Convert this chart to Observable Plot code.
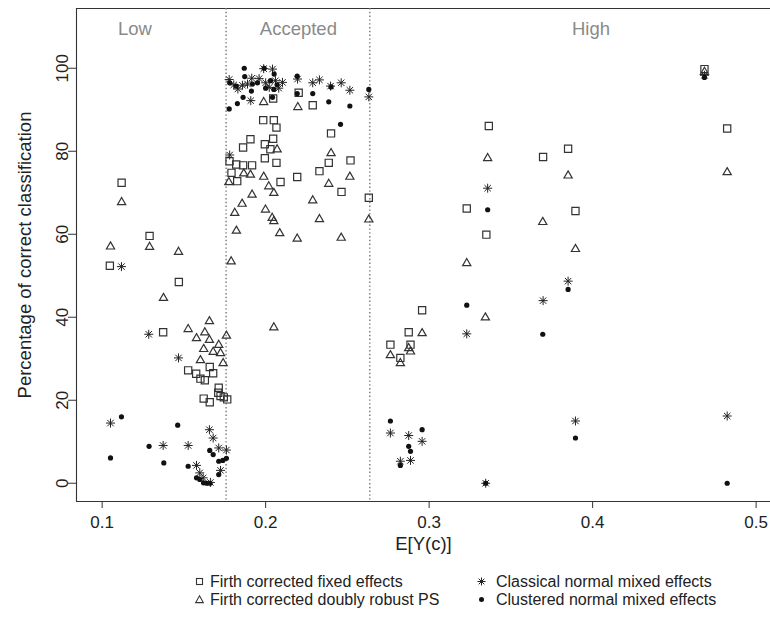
<!DOCTYPE html>
<html>
<head>
<meta charset="utf-8">
<script src="https://cdn.jsdelivr.net/npm/d3@7"></script>
<script src="https://cdn.jsdelivr.net/npm/@observablehq/plot@0.6"></script>
<style>
  html, body { margin: 0; padding: 0; background: white; overflow: hidden; }
  body { font-family: "Liberation Sans", Arial, sans-serif; color: #222; }
  #legend { position: relative; width: 770px; height: 57px; font-size: 16px; }
  #legend .item { position: absolute; height: 18px; line-height: 18px; white-space: nowrap; }
  #legend svg { position: absolute; }
</style>
</head>
<body>
<div id="chart"></div>
<script>
// ---- Data ----
// Firth corrected fixed effects (open squares)
const fixedX = [0.1047,0.1119,0.1290,0.1373,0.1469,0.1526,0.1575,0.1601,0.1628,0.1658,0.1679,0.1713,0.1710,0.1724,0.1744,0.1765,0.1621,0.1658,
  0.1779,0.1820,0.1862,0.1917,0.1791,0.1826,0.1862,0.1907,0.1985,0.2050,0.2066,0.1995,0.2046,0.2029,0.1995,0.2066,0.2046,0.2202,0.2288,0.2400,0.2386,0.2519,0.2329,0.2193,0.2091,0.2464,0.2631,
  0.2763,0.2824,0.2875,0.2886,0.2957,0.3230,0.3350,0.3365,0.3697,0.3850,0.3895,0.4684,0.4823];
const fixedY = [52.4,72.4,59.6,36.4,48.5,27.2,26.4,25.2,24.8,28.0,26.5,23.0,21.8,21.0,20.7,20.2,20.4,19.5,
  77.6,76.8,76.6,76.6,74.8,72.8,80.9,82.9,87.5,87.5,85.7,81.7,83.0,80.5,78.3,77.2,92.7,94.1,91.1,84.3,77.2,77.8,75.2,73.8,72.6,70.2,68.8,
  33.4,30.2,36.4,33.4,41.7,66.2,59.9,86.1,78.6,80.6,65.6,99.8,85.5];

// Firth corrected doubly robust PS (open triangles)
const robustX = [0.1051,0.1119,0.1290,0.1375,0.1467,0.1526,0.1577,0.1601,0.1621,0.1628,0.1656,0.1656,0.1679,0.1713,0.1724,0.1740,0.1760,
  0.1988,0.2197,0.1775,0.1866,0.1907,0.1988,0.2019,0.2070,0.2400,0.2515,0.2386,0.2050,0.2288,0.1917,0.2631,0.2329,0.1856,0.1811,0.1999,0.2040,0.2050,0.1821,0.2086,0.2193,0.2462,0.1789,0.2050,
  0.2763,0.2824,0.2875,0.2886,0.2957,0.3230,0.3344,0.3358,0.3695,0.3850,0.3895,0.4684,0.4823];
const robustY = [57.1,67.8,57.0,44.7,55.8,37.2,35.0,29.7,32.4,36.4,39.1,34.6,31.7,33.4,31.4,29.0,35.6,
  91.9,90.7,72.6,74.7,74.4,73.9,71.6,80.5,79.6,73.9,72.2,70.0,68.2,69.6,63.6,63.7,67.4,65.2,66.0,64.0,63.2,60.9,60.3,59.0,59.2,53.5,37.6,
  30.9,29.0,32.6,31.8,36.2,53.1,40.0,78.4,63.0,74.2,56.5,99.2,75.0];

// Classical normal mixed effects (asterisks)
const classicalX = [0.1051,0.1118,0.1285,0.1373,0.1467,0.1526,0.1577,0.1597,0.1618,0.1656,0.1679,0.1713,0.1760,0.1724,0.1662,
  0.1780,0.1777,0.1805,0.1830,0.1858,0.1889,0.1909,0.1915,0.1960,0.1988,0.2042,0.2000,0.2022,0.2060,0.2080,0.2103,0.2195,0.2288,0.2329,0.2397,0.2462,0.2515,0.2631,
  0.2763,0.2824,0.2875,0.2886,0.2957,0.3230,0.3346,0.3358,0.3697,0.3850,0.3895,0.4684,0.4823];
const classicalY = [14.5,52.2,35.9,9.1,30.2,9.1,4.3,2.5,1.3,12.9,10.9,8.5,8.0,3.1,0.2,
  79.1,97.3,96.0,95.0,95.9,96.2,92.2,97.6,97.5,99.9,99.8,96.5,95.4,97.0,95.2,96.6,97.4,96.5,97.2,95.7,96.5,94.7,93.1,
  12.1,5.3,11.5,5.5,10.1,36.0,0.0,71.1,44.0,48.7,15.0,98.3,16.2];

// Clustered normal mixed effects (filled dots)
const clusteredX = [0.1051,0.1118,0.1287,0.1377,0.1462,0.1526,0.1577,0.1597,0.1620,0.1640,0.1660,0.1658,0.1679,0.1713,0.1738,0.1760,0.1713,
  0.1869,0.1780,0.1820,0.1872,0.1919,0.1862,0.1827,0.1777,0.1913,0.1991,0.2052,0.2000,0.2030,0.2050,0.2070,0.2042,0.2193,0.2193,0.2288,0.2386,0.2400,0.2515,0.2458,0.2631,0.1950,
  0.2763,0.2824,0.2875,0.2886,0.2957,0.3230,0.3346,0.3358,0.3695,0.3850,0.3895,0.4684,0.4823];
const clusteredY = [6.1,16.0,8.9,4.9,14.0,4.1,1.3,0.9,0.1,0.0,0.0,7.9,6.9,5.3,5.5,6.0,2.1,
  100.0,96.5,95.7,98.0,96.2,93.0,91.5,90.2,94.5,100.0,98.6,95.2,97.0,94.9,96.0,93.0,98.1,93.9,93.9,91.9,95.5,90.9,86.5,94.9,96.5,
  15.0,4.3,8.9,7.7,12.9,42.9,0.0,65.9,35.9,46.7,10.9,97.8,0.0];

const thresholds = [0.1758, 0.2637];
const regionLabels = ["Low", "Accepted", "High"];
const regionX = [0.12, 0.22, 0.399];
const regionLabelY = 109.5;

const xTicks = [0.1, 0.2, 0.3, 0.4, 0.5];
const yTicks = [0, 20, 40, 60, 80, 100];
const xDomain = [0.0843, 0.5088];
const yDomain = [-4.4, 114.4];

const seriesNames = ["Firth corrected fixed effects", "Firth corrected doubly robust PS",
                     "Classical normal mixed effects", "Clustered normal mixed effects"];

// ---- Symbols (R pch 0, 2, 8, 16) ----
const symSquare = { draw(c) { const h = 3.6; c.moveTo(-h,-h); c.lineTo(h,-h); c.lineTo(h,h); c.lineTo(-h,h); c.closePath(); } };
const symTriangle = { draw(c) { c.moveTo(0,-4.4); c.lineTo(4.1,2.7); c.lineTo(-4.1,2.7); c.closePath(); } };
const symAsterisk = { draw(c) { const r = 4.5, d = 3.2;
  c.moveTo(-r,0); c.lineTo(r,0); c.moveTo(0,-r); c.lineTo(0,r);
  c.moveTo(-d,-d); c.lineTo(d,d); c.moveTo(-d,d); c.lineTo(d,-d); } };
const symDot = { draw(c) { const r = 2.6; c.moveTo(r,0); c.arc(0,0,r,0,2*Math.PI); } };

const pts = (xs, ys) => xs.map((x, i) => ({x, y: ys[i]}));

const font = "Liberation Sans, Arial, sans-serif";
const ink = "#333";

const chart = Plot.plot({
  width: 770,
  height: 561,
  marginLeft: 76,
  marginRight: 0,
  marginTop: 8,
  marginBottom: 60,
  style: { fontFamily: font, color: "#222", background: "white" },
  x: { domain: xDomain },
  y: { domain: yDomain },
  marks: [
    // frame (top, bottom, left)
    Plot.ruleY([yDomain[0], yDomain[1]], { stroke: ink, strokeWidth: 1.1 }),
    Plot.ruleX([xDomain[0]], { stroke: ink, strokeWidth: 1.1 }),
    // thresholds
    Plot.ruleX(thresholds, { stroke: "#777", strokeWidth: 1.4, strokeDasharray: "1.4,2.4" }),
    // region labels
    Plot.text(regionLabels, { x: regionX, y: regionX.map(() => regionLabelY), text: d => d, fill: "#8a8a8a", fontSize: 18.5, lineAnchor: "middle" }),
    // axes
    Plot.axisX({ ticks: xTicks, tickSize: 7, tickPadding: 7, fontSize: 17, label: null, stroke: ink, tickFormat: d3.format(".1f") }),
    Plot.axisY({ ticks: yTicks, tickSize: 8, tickFormat: () => "", label: null, stroke: ink }),
    Plot.text(yTicks, { y: d => d, text: d => String(d), frameAnchor: "left", textAnchor: "middle", lineAnchor: "middle", rotate: -90, dx: -14, fontSize: 17, fill: "#222" }),
    Plot.text(["E[Y(c)]"], { frameAnchor: "bottom", dy: 48, fontSize: 18.5, fill: "#222" }),
    Plot.text(["Percentage of correct classification"], { frameAnchor: "left", textAnchor: "middle", lineAnchor: "middle", rotate: -90, dx: -51, fontSize: 18.5, fill: "#222" }),
    // points
    Plot.dot(pts(fixedX, fixedY), { x: "x", y: "y", symbol: symSquare, r: 4, fill: "none", stroke: ink, strokeWidth: 1.2 }),
    Plot.dot(pts(robustX, robustY), { x: "x", y: "y", symbol: symTriangle, r: 4, fill: "none", stroke: ink, strokeWidth: 1.2 }),
    Plot.dot(pts(classicalX, classicalY), { x: "x", y: "y", symbol: symAsterisk, r: 4, fill: "none", stroke: "#222", strokeWidth: 1 }),
    Plot.dot(pts(clusteredX, clusteredY), { x: "x", y: "y", symbol: symDot, r: 4, fill: "#111", stroke: "none" })
  ]
});
document.getElementById("chart").appendChild(chart);

// ---- Legend (HTML, below the SVG) ----
const legend = document.createElement("div");
legend.id = "legend";
const legendSyms = [
  '<rect x="2.5" y="2.5" width="6" height="6" fill="none" stroke="#333" stroke-width="1.1"/>',
  '<path d="M5.5,1.8L9.3,8.6L1.7,8.6Z" fill="none" stroke="#333" stroke-width="1.1"/>',
  '<path d="M1.5,5.5H9.5M5.5,1.5V9.5M2.7,2.7L8.3,8.3M2.7,8.3L8.3,2.7" stroke="#222" stroke-width="1"/>',
  '<circle cx="5.5" cy="5.5" r="2.5" fill="#111"/>'
];
const legendCols = [[193.5, 210], [475.5, 496]];
const legendRows = [21, 39];
const order = [[0,0,0],[1,0,1],[2,1,0],[3,1,1]];
order.forEach(([s, col, row]) => {
  const sv = document.createElementNS("http://www.w3.org/2000/svg", "svg");
  sv.setAttribute("width", 11); sv.setAttribute("height", 11);
  sv.style.left = legendCols[col][0] + "px";
  sv.style.top = (legendRows[row] - 6.5) + "px";
  sv.innerHTML = legendSyms[s];
  legend.appendChild(sv);
  const it = document.createElement("div");
  it.className = "item";
  it.style.left = legendCols[col][1] + "px";
  it.style.top = (legendRows[row] - 9) + "px";
  it.textContent = seriesNames[s];
  legend.appendChild(it);
});
document.body.appendChild(legend);
</script>
</body>
</html>
